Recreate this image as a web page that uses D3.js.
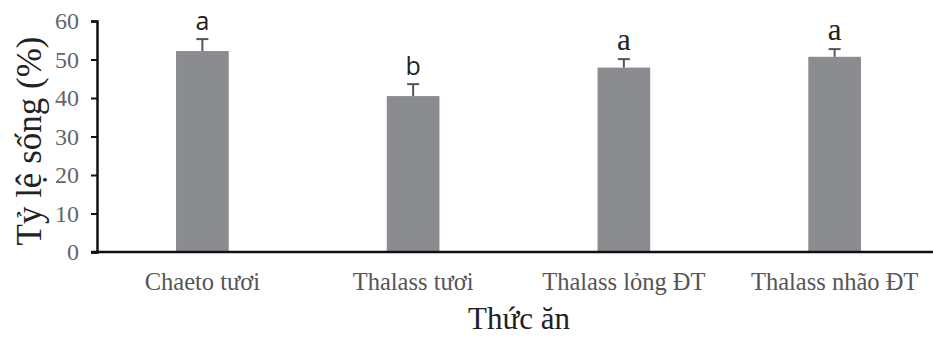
<!DOCTYPE html>
<html>
<head>
<meta charset="utf-8">
<script src="https://cdn.jsdelivr.net/npm/d3@7"></script>
<style>
  body { margin: 0; background: #fff; }
  svg { display: block; }
</style>
</head>
<body>
<svg id="chart"></svg>
<script>
// data
const categories = ["Chaeto tươi", "Thalass tươi", "Thalass lỏng ĐT", "Thalass nhão ĐT"];
const means = [52.2, 40.5, 47.9, 50.7];
const errors = [3.1, 3.1, 2.2, 2.0];
const letters = ["a", "b", "a", "a"];
const yTicks = [0, 10, 20, 30, 40, 50, 60];

const width = 933, height = 337;
const margin = { top: 21, right: 0, bottom: 85, left: 97 };

const svg = d3.select("#chart")
    .attr("width", width)
    .attr("height", height);

const x = d3.scaleBand()
    .domain(categories)
    .range([margin.left, 940])
    .paddingInner(0.75)
    .paddingOuter(0.375);

const y = d3.scaleLinear()
    .domain([0, 60])
    .range([height - margin.bottom, margin.top]);

// bars
svg.selectAll("rect.bar")
    .data(categories)
    .enter()
    .append("rect")
    .attr("class", "bar")
    .attr("x", d => x(d))
    .attr("y", (d, i) => y(means[i]))
    .attr("width", x.bandwidth())
    .attr("height", (d, i) => y(0) - y(means[i]))
    .attr("fill", "#8b8c90");

// error bars (upper only)
const eb = svg.append("g")
    .attr("stroke", "#55565a")
    .attr("stroke-width", 2);

categories.forEach((c, i) => {
    const cx = x(c) + x.bandwidth() / 2;
    eb.append("line")
        .attr("x1", cx).attr("x2", cx)
        .attr("y1", y(means[i])).attr("y2", y(means[i] + errors[i]));
    eb.append("line")
        .attr("x1", cx - 6).attr("x2", cx + 6)
        .attr("y1", y(means[i] + errors[i])).attr("y2", y(means[i] + errors[i]));
});

// significance letters (first two sans, last two serif, as in the figure)
svg.selectAll("text.letter")
    .data(categories)
    .enter()
    .append("text")
    .attr("class", "letter")
    .attr("x", d => x(d) + x.bandwidth() / 2)
    .attr("y", (d, i) => y(means[i] + errors[i]) - 9)
    .attr("text-anchor", "middle")
    .attr("font-family", (d, i) => i < 2 ? "'Open Sans', sans-serif" : "'Liberation Serif', serif")
    .attr("font-size", (d, i) => i < 2 ? "25px" : "31px")
    .attr("fill", "#222")
    .text((d, i) => letters[i]);

// y axis
const yAxis = svg.append("g")
    .attr("transform", `translate(${margin.left},0)`)
    .call(d3.axisLeft(y).tickValues(yTicks).tickSize(6).tickPadding(12));
yAxis.select(".domain").attr("stroke", "#111").attr("stroke-width", 2.5);
yAxis.selectAll(".tick line").attr("stroke", "#111").attr("stroke-width", 2);
yAxis.selectAll(".tick text")
    .attr("font-family", "'Liberation Serif', serif")
    .attr("font-size", "24px")
    .attr("fill", "#666");

// x axis baseline
svg.append("line")
    .attr("x1", margin.left - 6).attr("x2", width)
    .attr("y1", y(0)).attr("y2", y(0))
    .attr("stroke", "#111")
    .attr("stroke-width", 2.5);

// x labels
svg.selectAll("text.xlabel")
    .data(categories)
    .enter()
    .append("text")
    .attr("class", "xlabel")
    .attr("x", d => x(d) + x.bandwidth() / 2)
    .attr("y", 290)
    .attr("text-anchor", "middle")
    .attr("font-family", "'Liberation Serif', serif")
    .attr("font-size", "24.5px")
    .attr("fill", "#555")
    .text(d => d);

// axis titles
svg.append("text")
    .attr("x", 519)
    .attr("y", 329)
    .attr("text-anchor", "middle")
    .attr("font-family", "'Liberation Serif', serif")
    .attr("font-size", "31px")
    .attr("fill", "#222")
    .text("Thức ăn");

svg.append("text")
    .attr("transform", "translate(41,141) rotate(-90)")
    .attr("text-anchor", "middle")
    .attr("font-family", "'Liberation Serif', serif")
    .attr("font-size", "35px")
    .attr("fill", "#222")
    .text("Tỷ lệ sống (%)");
</script>
</body>
</html>
